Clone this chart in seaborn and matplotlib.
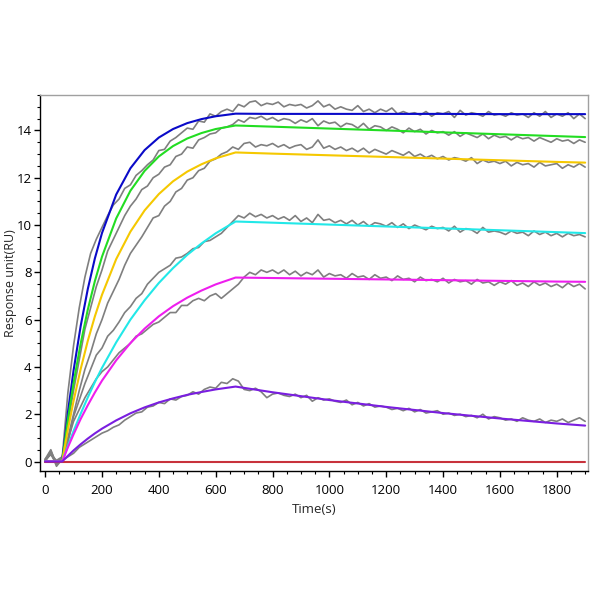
import numpy as np
import pandas as pd
import matplotlib
matplotlib.use("Agg")
import matplotlib.pyplot as plt
from matplotlib.ticker import MultipleLocator
import seaborn as sns

sns.set_theme(style="white")
plt.rcParams['font.family'] = ['Open Sans', 'DejaVu Sans']

# ---- fitted curves ----
fit_time = [0, 60, 80, 100, 125, 150, 175, 200, 250, 300, 350, 400, 450, 500,
            550, 600, 670, 800, 1000, 1200, 1400, 1600, 1800, 1900]
fit_blue = [0, 0, 2.07, 3.85, 5.73, 7.29, 8.59, 9.66, 11.29, 12.40, 13.17, 13.70,
            14.06, 14.31, 14.48, 14.60, 14.71, 14.70, 14.70, 14.70, 14.70, 14.69, 14.69, 14.69]
fit_green = [0, 0, 1.77, 3.32, 4.99, 6.42, 7.63, 8.66, 10.28, 11.45, 12.29, 12.90,
             13.34, 13.66, 13.89, 14.06, 14.21, 14.16, 14.08, 14.00, 13.92, 13.84, 13.76, 13.72]
fit_yellow = [0, 0, 1.35, 2.56, 3.91, 5.10, 6.14, 7.05, 8.56, 9.72, 10.62, 11.31,
              11.85, 12.26, 12.57, 12.82, 13.07, 13.02, 12.95, 12.88, 12.81, 12.74, 12.67, 12.64]
fit_cyan = [0, 0, 0.66, 1.29, 2.02, 2.71, 3.36, 3.96, 5.04, 6.00, 6.82, 7.55,
            8.18, 8.74, 9.22, 9.65, 10.15, 10.10, 10.02, 9.94, 9.86, 9.78, 9.70, 9.66]
fit_magenta = [0, 0, 0.60, 1.15, 1.80, 2.38, 2.92, 3.42, 4.28, 5.01, 5.62, 6.14,
               6.57, 6.93, 7.23, 7.49, 7.78, 7.76, 7.73, 7.70, 7.67, 7.64, 7.61, 7.60]
fit_purple = [0, 0, 0.24, 0.47, 0.73, 0.97, 1.19, 1.39, 1.74, 2.04, 2.29, 2.50,
              2.67, 2.82, 2.94, 3.05, 3.17, 2.93, 2.60, 2.31, 2.05, 1.82, 1.61, 1.52]
fit_red = [0] * 24

# ---- measured (grey) curves, sampled every 20 s from 0 to 1900 ----
raw_time = list(range(0, 1901, 20))
raw_1 = [0.05, 0.45, -0.10, 0.15, 2.90, 4.90, 6.50, 7.80, 8.80, 9.40,
         9.90, 10.40, 10.85, 11.10, 11.55, 11.70, 12.10, 12.30, 12.55, 12.75,
         13.15, 13.20, 13.55, 13.70, 13.90, 14.10, 14.05, 14.40, 14.35, 14.70,
         14.60, 14.80, 14.90, 14.80, 15.10, 15.00, 15.20, 15.25, 15.05, 15.15,
         15.10, 15.20, 15.00, 15.10, 15.05, 15.10, 14.95, 15.05, 15.25, 15.00,
         15.10, 14.90, 15.00, 14.90, 14.85, 15.05, 14.80, 14.90, 14.75, 14.90,
         14.80, 14.95, 14.70, 14.80, 14.70, 14.75, 14.65, 14.80, 14.60, 14.75,
         14.70, 14.80, 14.55, 14.85, 14.65, 14.75, 14.70, 14.60, 14.80, 14.65,
         14.70, 14.60, 14.75, 14.65, 14.70, 14.55, 14.75, 14.60, 14.80, 14.55,
         14.70, 14.60, 14.75, 14.50, 14.70, 14.50]
raw_2 = [0.10, 0.30, 0.05, 0.20, 1.60, 3.00, 4.30, 5.60, 6.50, 7.40,
         8.10, 8.90, 9.40, 9.90, 10.40, 10.80, 11.10, 11.50, 11.65, 12.00,
         12.15, 12.45, 12.55, 12.90, 13.00, 13.30, 13.25, 13.60, 13.70, 13.85,
         13.90, 14.10, 14.15, 14.25, 14.45, 14.35, 14.55, 14.50, 14.60, 14.45,
         14.55, 14.40, 14.50, 14.45, 14.30, 14.45, 14.35, 14.50, 14.20, 14.40,
         14.30, 14.35, 14.15, 14.30, 14.25, 14.10, 14.30, 14.05, 14.20, 14.15,
         14.00, 14.15, 14.05, 13.90, 14.10, 13.95, 14.05, 13.85, 14.00, 13.90,
         13.95, 13.80, 13.95, 13.75, 13.90, 13.80, 13.70, 13.85, 13.65, 13.80,
         13.70, 13.75, 13.60, 13.75, 13.65, 13.70, 13.55, 13.70, 13.60, 13.50,
         13.65, 13.55, 13.60, 13.45, 13.60, 13.50]
raw_3 = [0.00, 0.35, -0.05, 0.20, 1.00, 2.00, 3.00, 3.90, 4.60, 5.40,
         6.00, 6.70, 7.20, 7.70, 8.30, 8.80, 9.15, 9.50, 9.90, 10.30,
         10.40, 10.80, 11.00, 11.40, 11.55, 11.90, 12.00, 12.30, 12.40, 12.70,
         12.80, 13.00, 13.10, 13.30, 13.20, 13.45, 13.50, 13.30, 13.40, 13.35,
         13.45, 13.30, 13.40, 13.25, 13.35, 13.40, 13.20, 13.30, 13.60, 13.25,
         13.35, 13.20, 13.30, 13.15, 13.25, 13.10, 13.25, 13.05, 13.20, 13.10,
         13.00, 13.15, 13.05, 12.95, 13.10, 12.90, 13.00, 12.85, 12.95, 12.80,
         12.90, 12.75, 12.85, 12.80, 12.70, 12.85, 12.60, 12.75, 12.65, 12.70,
         12.60, 12.70, 12.50, 12.65, 12.55, 12.60, 12.45, 12.65, 12.50, 12.55,
         12.60, 12.40, 12.55, 12.45, 12.60, 12.45]
raw_4 = [0.10, 0.50, -0.15, 0.15, 0.80, 1.90, 2.60, 3.30, 3.90, 4.50,
         4.80, 5.30, 5.55, 5.90, 6.30, 6.55, 6.90, 7.10, 7.50, 7.75,
         8.00, 8.15, 8.30, 8.60, 8.65, 8.80, 9.00, 9.05, 9.30, 9.35,
         9.50, 9.65, 9.90, 10.15, 10.40, 10.30, 10.50, 10.35, 10.45, 10.30,
         10.40, 10.25, 10.35, 10.20, 10.40, 10.15, 10.30, 10.10, 10.45, 10.20,
         10.25, 10.10, 10.20, 10.05, 10.20, 10.00, 10.15, 9.95, 10.10, 10.05,
         9.95, 10.10, 9.90, 10.05, 9.85, 10.00, 9.90, 9.80, 9.95, 9.85,
         9.90, 9.75, 9.95, 9.70, 9.85, 9.80, 9.65, 9.90, 9.70, 9.75,
         9.70, 9.60, 9.75, 9.65, 9.70, 9.55, 9.75, 9.60, 9.70, 9.55,
         9.65, 9.50, 9.65, 9.55, 9.60, 9.50]
raw_5 = [0.05, 0.40, -0.20, 0.10, 0.90, 1.70, 2.20, 2.70, 3.10, 3.50,
         3.80, 4.00, 4.30, 4.60, 4.80, 5.00, 5.30, 5.40, 5.60, 5.80,
         5.90, 6.10, 6.30, 6.30, 6.60, 6.60, 6.80, 6.90, 6.80, 7.00,
         7.10, 6.90, 7.10, 7.30, 7.50, 7.80, 8.00, 7.90, 8.10, 8.00,
         8.10, 7.95, 8.10, 7.90, 8.05, 7.85, 8.00, 7.90, 8.10, 7.80,
         7.95, 7.85, 7.90, 7.75, 7.95, 7.80, 7.85, 7.70, 7.90, 7.75,
         7.80, 7.65, 7.85, 7.70, 7.75, 7.60, 7.80, 7.65, 7.70, 7.60,
         7.75, 7.55, 7.70, 7.60, 7.65, 7.50, 7.70, 7.55, 7.60, 7.45,
         7.60, 7.50, 7.65, 7.45, 7.55, 7.40, 7.60, 7.45, 7.55, 7.40,
         7.50, 7.35, 7.55, 7.40, 7.50, 7.30]
raw_6 = [0.05, 0.30, -0.10, 0.05, 0.20, 0.35, 0.60, 0.75, 0.90, 1.05,
         1.20, 1.30, 1.45, 1.55, 1.75, 1.90, 2.05, 2.10, 2.30, 2.35,
         2.50, 2.45, 2.65, 2.60, 2.75, 2.80, 2.95, 2.85, 3.05, 3.15,
         3.10, 3.35, 3.30, 3.50, 3.40, 3.05, 3.00, 3.10, 2.95, 2.70,
         2.85, 2.90, 2.80, 2.75, 2.85, 2.70, 2.80, 2.55, 2.70, 2.60,
         2.65, 2.55, 2.50, 2.60, 2.40, 2.50, 2.35, 2.45, 2.30, 2.35,
         2.30, 2.20, 2.25, 2.15, 2.25, 2.10, 2.20, 2.05, 2.10, 2.15,
         2.00, 2.05, 1.95, 2.00, 1.90, 1.95, 1.85, 2.00, 1.80, 1.90,
         1.85, 1.75, 1.80, 1.70, 1.85, 1.75, 1.70, 1.80, 1.65, 1.75,
         1.70, 1.80, 1.65, 1.75, 1.85, 1.70]

raw_series = [raw_1, raw_2, raw_3, raw_4, raw_5, raw_6]
fit_series = [("blue", fit_blue), ("green", fit_green), ("yellow", fit_yellow),
              ("cyan", fit_cyan), ("magenta", fit_magenta), ("red", fit_red),
              ("purple", fit_purple)]
fit_colors = {"blue": "#0a0ac8", "green": "#22dd22", "yellow": "#f5c800",
              "cyan": "#22e8e8", "magenta": "#ee1eee", "red": "#c8323c",
              "purple": "#7a1ee0"}

fig = plt.figure(figsize=(6, 6), dpi=100)
ax = fig.add_axes([0.0667, 0.215, 0.9133, 0.6267])

for r in raw_series:
    n = min(len(r), len(raw_time))
    sns.lineplot(x=raw_time[:n], y=r[:n], ax=ax, color="#7f7f7f", lw=1.2,
                 estimator=None, sort=False, zorder=2)

for name, vals in fit_series:
    sns.lineplot(x=fit_time, y=vals, ax=ax, color=fit_colors[name], lw=1.5,
                 estimator=None, sort=False, zorder=3)

ax.set_xlim(-18, 1910)
ax.set_ylim(-0.4, 15.5)
ax.xaxis.set_major_locator(MultipleLocator(200))
ax.xaxis.set_minor_locator(MultipleLocator(50))
ax.yaxis.set_major_locator(MultipleLocator(2))
ax.yaxis.set_minor_locator(MultipleLocator(0.5))
ax.tick_params(axis="both", which="major", direction="out", length=4, width=1,
               color="black", labelsize=9.5, labelcolor="black", pad=2,
               bottom=True, left=True)
ax.tick_params(axis="x", which="major", pad=5)
ax.tick_params(axis="both", which="minor", direction="out", length=2.5, width=0.8,
               color="black", bottom=True, left=True)
for s in ["left", "bottom"]:
    ax.spines[s].set_color("black")
    ax.spines[s].set_linewidth(1.0)
for s in ["top", "right"]:
    ax.spines[s].set_color("#a0a0a0")
    ax.spines[s].set_linewidth(1.0)

ax.set_xlabel("Time(s)", fontsize=9.5)
ax.set_ylabel("Response unit(RU)", fontsize=9)
ax.yaxis.set_label_coords(-0.042, 0.5)
ax.xaxis.set_label_coords(0.5, -0.085)

fig.savefig("out.png", dpi=100, facecolor="white")
